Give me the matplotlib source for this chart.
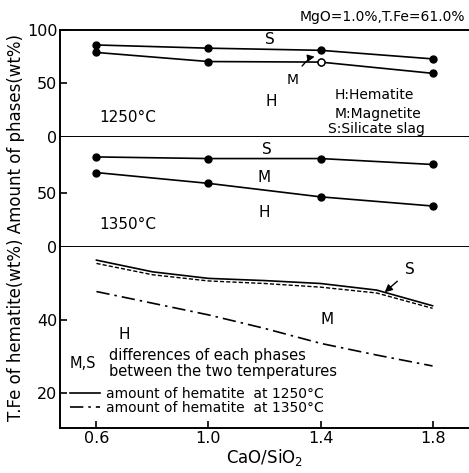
import matplotlib.pyplot as plt

# --------------------------------
# DATOS
# --------------------------------

basicidad = [0.6, 1.0, 1.4, 1.8]

# 1250 °C: límites de fases (wt%)
s_1250 = [86, 83, 81, 73]
m_1250 = [79, 70.5, 70, 59.5]

# 1350 °C
s_1350 = [83.5, 82, 82, 76.5]
m_1350 = [69, 59, 46.5, 38]

# T.Fe de hematita (wt%)
basicidad_fe = [0.6, 0.8, 1.0, 1.2, 1.4, 1.6, 1.8]
fe_1250 = [56.4, 53.2, 51.4, 50.8, 50.0, 48.2, 43.9]
fe_1250_b = [55.5, 52.4, 50.7, 50.0, 49.0, 47.4, 43.2]
fe_1350 = [47.8, 44.6, 41.4, 37.7, 33.6, 30.4, 27.4]

plt.rcParams["font.family"] = "DejaVu Sans"
plt.rcParams["font.size"] = 11

fig = plt.figure(figsize=(4.69, 4.73), dpi=100)

ax1 = fig.add_axes([0.128, 0.7104, 0.872, 0.2262])
ax2 = fig.add_axes([0.128, 0.4778, 0.872, 0.2326])
ax3 = fig.add_axes([0.128, 0.0951, 0.872, 0.3827])

for ax in (ax1, ax2, ax3):
    ax.set_xlim(0.47, 1.93)
    ax.spines["right"].set_visible(False)
    for s in ax.spines.values():
        s.set_linewidth(1.4)
    ax.tick_params(direction="in", length=5, width=1.2, labelsize=11.5, pad=2)

ax2.spines["top"].set_visible(False)
ax3.spines["top"].set_visible(False)
for ax in (ax1, ax2):
    ax.set_xticks([])

# --------------------------------
# PANEL 1250 °C
# --------------------------------

ax1.set_ylim(0, 100)
ax1.set_yticks([0, 50, 100])
ax1.plot(basicidad, s_1250, "k-", marker="o", ms=5, lw=1.2)
ax1.plot(basicidad, m_1250, "k-", marker="o", ms=5, lw=1.2)
ax1.plot(basicidad[2], m_1250[2], "o", ms=5, mfc="white", mec="k")

ax1.text(1.218, 90.7, "S", ha="center", va="center")
ax1.text(1.225, 32.7, "H", ha="center", va="center")
ax1.annotate("M", xy=(1.379, 75), xytext=(1.30, 53), ha="center", va="center",
             fontsize=10,
             arrowprops=dict(arrowstyle="-|>", lw=1, color="k",
                             connectionstyle="angle3,angleA=60,angleB=10",
                             shrinkA=4, shrinkB=0))
ax1.text(0.61, 18, "1250°C", ha="left", va="center")
ax1.text(1.45, 39, "H:Hematite", ha="left", va="center", fontsize=10)
ax1.text(1.45, 21.5, "M:Magnetite", ha="left", va="center", fontsize=10)
ax1.text(1.425, 7.5, "S:Silicate slag", ha="left", va="center", fontsize=10)

# --------------------------------
# PANEL 1350 °C
# --------------------------------

ax2.set_ylim(0, 102)
ax2.set_yticks([0, 50])
ax2.plot(basicidad, s_1350, "k-", marker="o", ms=5, lw=1.2)
ax2.plot(basicidad, m_1350, "k-", marker="o", ms=5, lw=1.2)

ax2.text(1.21, 90, "S", ha="center", va="center")
ax2.text(1.20, 64, "M", ha="center", va="center")
ax2.text(1.20, 32.4, "H", ha="center", va="center")
ax2.text(0.61, 20.4, "1350°C", ha="left", va="center")

# --------------------------------
# PANEL T.Fe
# --------------------------------

ax3.set_ylim(10.4, 60)
ax3.set_yticks([20, 40])
ax3.set_xticks(basicidad)
ax3.set_xticklabels(["0.6", "1.0", "1.4", "1.8"])
ax3.set_xlabel("CaO/SiO$_2$", fontsize=12, labelpad=1)

ax3.plot(basicidad_fe, fe_1250, "k-", lw=1.2,
         label="amount of hematite  at 1250°C")
ax3.plot(basicidad_fe, fe_1250_b, "k--", lw=1.0, dashes=(3, 1.5))
ax3.plot(basicidad_fe, fe_1350, "k-.", lw=1.2, dashes=(8, 3, 1.5, 3),
         label="amount of hematite  at 1350°C")

ax3.annotate("S", xy=(1.629, 47.6), xytext=(1.72, 53.7), ha="center",
             va="center",
             arrowprops=dict(arrowstyle="-|>", lw=1, color="k",
                             shrinkA=5, shrinkB=0))
ax3.text(1.425, 40, "M", ha="center", va="center")
ax3.text(0.70, 35.9, "H", ha="center", va="center")
ax3.text(0.505, 28, "M,S", ha="left", va="center", fontsize=10.5)
ax3.text(0.646, 30.4, "differences of each phases", ha="left", va="center",
         fontsize=10.5)
ax3.text(0.646, 26.0, "between the two temperatures", ha="left",
         va="center", fontsize=10.5)

ax3.legend(loc="lower left", bbox_to_anchor=(0.01, 0.04), frameon=False,
           handlelength=2.2, handletextpad=0.4, labelspacing=0.0,
           borderaxespad=0, fontsize=10)

# --------------------------------
# TEXTOS DE FIGURA
# --------------------------------

fig.text(0.991, 0.964, "MgO=1.0%,T.Fe=61.0%", ha="right", va="center",
         fontsize=10)
fig.text(0.035, 0.52, "T.Fe of hematite(wt%) Amount of phases(wt%)",
         rotation=90, ha="center", va="center", fontsize=12)

plt.savefig("out.png", dpi=100)
